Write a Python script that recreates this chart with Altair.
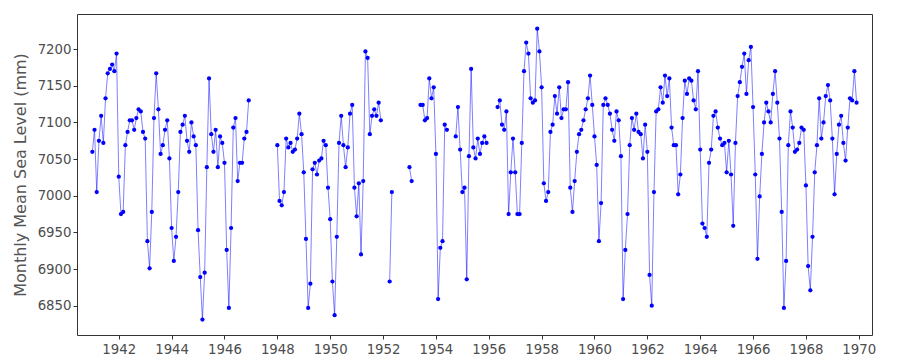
import altair as alt
import pandas as pd

# Monthly mean sea level (mm); each segment: (start year, start month, values)
seg_1941 = [7060, 7090, 7005, 7075, 7109, 7072, 7133, 7167, 7173, 7179, 7170, 7194,
            7026, 6975, 6978, 7069, 7087, 7103, 7103, 7090, 7106, 7118, 7115, 7087,
            7078, 6938, 6901, 6978, 7106, 7167, 7118, 7057, 7069, 7090, 7103, 7051,
            6956, 6911, 6944, 7005, 7087, 7097, 7109, 7075, 7060, 7100, 7081, 7069,
            6953, 6889, 6831, 6895, 7039, 7160, 7084, 7060, 7090, 7039, 7081, 7072,
            7045, 6926, 6847, 6956, 7093, 7106, 7020, 7045, 7045, 7078, 7087, 7130]
seg_1948 = [7069, 6993, 6987, 7005, 7078, 7066, 7072, 7060, 7063, 7078, 7112, 7084,
            7032, 6941, 6847, 6880, 7036, 7045, 7029, 7048, 7051, 7075, 7069, 7011,
            6968, 6883, 6837, 6944, 7072, 7109, 7069, 7039, 7066, 7112, 7124, 7011,
            6972, 7017, 6920, 7020, 7197, 7188, 7084, 7109, 7118, 7109, 7127, 7103]
seg_1952 = [6883, 7005]
seg_1953a = [7039, 7020]
seg_1953b = [7124, 7124, 7103, 7106, 7160, 7133, 7148, 7057, 6859, 6929, 6938, 7097, 7090]
seg_1954 = [7081, 7121, 7063, 7005, 7011, 6886, 7054, 7173, 7066, 7051, 7078, 7057,
            7072, 7081, 7072]
seg_1956 = [7121, 7130, 7097, 7090, 7115, 6975, 7032, 7078,
            7032, 6975, 6975, 7072, 7170, 7209, 7194, 7133, 7127, 7130, 7228, 7197,
            7148, 7017, 6993, 7005, 7087, 7097, 7136, 7112, 7148, 7106, 7118, 7118,
            7155, 7011, 6978, 7020, 7060, 7084, 7090, 7103, 7118, 7133, 7164, 7124,
            7081, 7042, 6938, 6990, 7124, 7133, 7124, 7112, 7090, 7075, 7115, 7103,
            7054, 6859, 6926, 6975, 7069, 7106, 7090, 7112, 7087, 7084, 7051, 7097,
            7060, 6892, 6850, 7005, 7115, 7118, 7148, 7127, 7164, 7136, 7160, 7093,
            7069, 7069, 7002, 7029, 7106, 7157, 7139, 7160, 7157, 7130, 7118, 7170,
            7063, 6962, 6956, 6944, 7045, 7063, 7109, 7115, 7093, 7078, 7069, 7072,
            7032, 7075, 7029, 6959, 7072, 7136, 7155, 7176, 7194, 7139, 7185, 7203,
            7121, 7029, 6914, 6999, 7057, 7100, 7127, 7115, 7100, 7139, 7170, 7127,
            7078, 6978, 6847, 6911, 7069, 7115, 7093, 7060, 7063, 7072, 7093, 7090,
            7014, 6904, 6871, 6944, 7032, 7069, 7133, 7078, 7100, 7136, 7151, 7130,
            7078, 7002, 7057, 7097, 7109, 7072, 7048, 7093, 7133, 7130, 7170, 7127]

segments = [
    (1941, 1, seg_1941),
    (1948, 1, seg_1948),
    (1952, 4, seg_1952),
    (1953, 1, seg_1953a),
    (1953, 6, seg_1953b),
    (1954, 10, seg_1954),
    (1956, 5, seg_1956),
]

year_ticks = list(range(1942, 1971, 2))
level_ticks = list(range(6850, 7201, 50))

rows = []
for sid, (yr, mo, vals) in enumerate(segments):
    for i, v in enumerate(vals):
        k = (yr - 1941) * 12 + (mo - 1) + i
        rows.append({"t": 1941 + k / 12.0, "level": v, "seg": sid})
df = pd.DataFrame(rows)

x = alt.X("t:Q",
          scale=alt.Scale(domain=[1940.42, 1970.5], nice=False, zero=False),
          axis=alt.Axis(values=year_ticks, format="d", title=None, labelPadding=3))
y = alt.Y("level:Q",
          scale=alt.Scale(domain=[6810, 7248], nice=False, zero=False),
          axis=alt.Axis(values=level_ticks, format="d", title="Monthly Mean Sea Level (mm)",
                        labelPadding=2, titlePadding=9))

base = alt.Chart(df).encode(x=x, y=y)
line = base.mark_line(color="#0000ff", opacity=0.5, strokeWidth=1).encode(detail="seg:N")
pts = base.mark_circle(color="#0000ff", opacity=1, size=18)

chart = (line + pts).properties(
    width=795, height=321,
    autosize=alt.AutoSizeParams(type="none"),
    padding={"left": 77, "top": 14, "right": 28, "bottom": 25},
).configure_view(
    stroke="#333333", strokeWidth=1
).configure_axis(
    domain=False, grid=False, tickColor="#333333", tickSize=4,
    labelColor="#4d4d4d", labelFont="DejaVu Sans", labelFontSize=13.3,
    titleFont="DejaVu Sans", titleFontSize=16, titleColor="#555555",
    titleFontWeight="normal",
)

chart.save("out.html", embed_options={"renderer": "svg", "actions": False})
